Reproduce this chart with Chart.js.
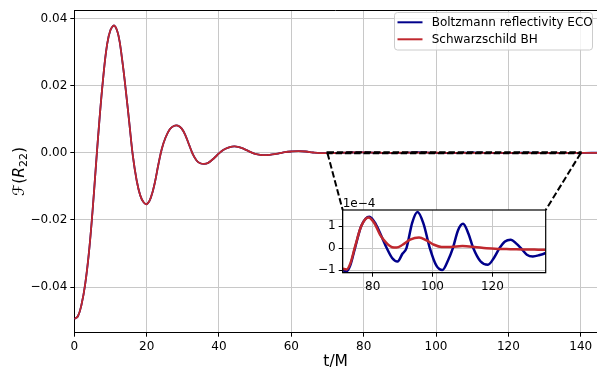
<!DOCTYPE html>
<html lang="en">
<head>
<meta charset="utf-8" />
<title>Ringdown: Boltzmann reflectivity ECO vs Schwarzschild BH</title>
<script src="https://cdn.jsdelivr.net/npm/chart.js@4.4.1/dist/chart.umd.min.js"></script>
<style>
    body { margin: 0; background: #fff; }
    .wrap { position: relative; width: 597px; height: 371px; }
    #mainChart { position: absolute; left: 0; top: 0; }
    #insetChart { position: absolute; left: 300px; top: 195px; }
</style>
</head>
<body>
<div class="wrap">
    <canvas id="mainChart" width="597" height="371" style="width:597px;height:371px"></canvas>
    <canvas id="insetChart" width="260" height="105" style="width:260px;height:105px"></canvas>
</div>
<script>
    // early ringdown, both curves lie on top of each other here
    const tRing = [0, 1.0, 2.0, 3.0, 4.0, 5.0, 6.0, 7.0, 8.0, 9.0,
        10.0, 11.1, 12.2, 13.2, 14.2, 15.2, 16.2, 17.2, 18.2, 19.2,
        20.2, 21.2, 22.2, 23.2, 24.2, 25.2, 26.4, 27.5, 28.6, 29.7,
        30.8, 31.8, 32.8, 33.8, 34.8, 35.9, 37.0, 38.2, 39.4, 40.6,
        41.8, 43.0, 44.2, 45.2, 46.4, 47.6, 48.8, 50.0, 51.4, 52.8,
        54.0, 55.4, 56.8, 58.2, 60.0, 62.0, 64.0, 66.0, 68.0];
    const fRing = [-0.0495, -0.0487, -0.0452, -0.0392, -0.0302, -0.0180, -0.0035, 0.0105, 0.0225, 0.0318,
        0.0366, 0.0379, 0.0350, 0.0280, 0.0190, 0.0090, -0.0010, -0.0080, -0.0126, -0.0148,
        -0.0152, -0.0132, -0.0092, -0.0037, 0.0012, 0.0045, 0.0070, 0.0080, 0.0081, 0.0072,
        0.0050, 0.0022, -0.0005, -0.0023, -0.0031, -0.0033, -0.0030, -0.0020, -0.0008, 0.0004,
        0.0012, 0.0017, 0.0019, 0.0018, 0.0014, 0.0008, 0.0002, -0.0003, -0.0006, -0.0007,
        -0.0006, -0.0004, -0.0001, 0.0002, 0.0004, 0.0005, 0.0004, 0.0001, -0.0001];

    // late time tails, in units of 1e-4
    const tEco = [70.0, 71.3, 72.5, 74.1, 76.2, 78.9, 81.0, 82.9, 84.7, 86.5,
        88.3, 90.0, 91.3, 93.2, 95.0, 97.0, 99.1, 101.3, 103.3, 105.2,
        106.8, 108.5, 110.2, 112.0, 113.6, 116.0, 118.5, 120.5, 122.4, 124.2,
        126.1, 128.0, 129.8, 131.5, 133.5, 135.5, 137.8, 141.0, 145.0];
    const fEco = [-1.00, -1.06, -0.80, 0.0, 1.00, 1.42, 1.10, 0.55, 0.0, -0.45,
        -0.61, -0.25, 0.0, 1.15, 1.64, 1.10, 0.0, -0.80, -1.00, -0.55,
        0.0, 0.80, 1.10, 0.65, 0.0, -0.60, -0.76, -0.45, 0.0, 0.30,
        0.38, 0.20, -0.05, -0.30, -0.38, -0.33, -0.22, 0.05, 0.30];
    const tBh = [70.0, 71.3, 72.5, 74.1, 76.2, 78.6, 80.5, 82.5, 84.5, 86.5,
        88.0, 90.0, 92.5, 95.5, 98.0, 100.5, 103.0, 106.0, 110.0, 114.0,
        118.0, 122.0, 126.0, 130.0, 134.0, 137.8, 141.0, 145.0];
    const fBh = [-0.94, -0.97, -0.72, 0.05, 1.00, 1.39, 1.15, 0.60, 0.25, 0.04,
        0.02, 0.15, 0.38, 0.48, 0.35, 0.15, 0.05, 0.05, 0.09, 0.05,
        -0.01, -0.04, -0.05, -0.06, -0.07, -0.08, -0.08, -0.08];
    const TAIL_UNIT = 1e-4;

    const xTicks = [0, 20, 40, 60, 80, 100, 120, 140];
    const yTicks = [-0.04, -0.02, 0.00, 0.02, 0.04];
    const insetXTicks = [80, 100, 120];
    const insetYTicks = [-1, 0, 1];
    const zoomT = [70, 140];
    const insetXRange = [70, 137.8];
    const insetYRange = [-1.12, 1.73];

    const FONT = '"DejaVu Sans", sans-serif';
    const BLUE = '#00008b';
    const RED = '#c0282e';
    // inset plot area in page pixels
    const INSET = { left: 342.7, top: 210, right: 545.7, bottom: 272.7 };

    const minus = s => String(s).replace('-', '\u2212');
    const toPoints = (t, f, k) => t.map((v, i) => ({ x: v, y: f[i] * k }));

    const ecoMain = toPoints(tRing, fRing, 1).concat(toPoints(tEco, fEco, TAIL_UNIT));
    const bhMain = toPoints(tRing, fRing, 1).concat(toPoints(tBh, fBh, TAIL_UNIT));

    const grid = { color: '#c8c8c8', lineWidth: 1, tickColor: '#000', tickLength: 4, tickWidth: 1 };
    const tickFont = { family: FONT, size: 12 };

    const mainDecor = {
        id: 'mainDecor',
        afterDatasetsDraw(chart) {
            const { ctx, chartArea: ca, scales: { x, y } } = chart;
            const x1 = x.getPixelForValue(zoomT[0]);
            const x2 = x.getPixelForValue(zoomT[1]);
            const yt = y.getPixelForValue(insetYRange[1] * TAIL_UNIT);
            const yb = y.getPixelForValue(insetYRange[0] * TAIL_UNIT);
            ctx.save();
            ctx.strokeStyle = '#000';
            ctx.lineWidth = 2;
            ctx.setLineDash([6.5, 2.8]);
            ctx.strokeRect(x1, yt, x2 - x1, yb - yt);
            ctx.beginPath();
            ctx.moveTo(x1, yb); ctx.lineTo(INSET.left, INSET.top);
            ctx.moveTo(x2, yb); ctx.lineTo(INSET.right, INSET.top);
            ctx.stroke();
            ctx.restore();

            // top spine
            ctx.save();
            ctx.strokeStyle = '#000';
            ctx.lineWidth = 1;
            ctx.beginPath();
            ctx.moveTo(ca.left, Math.round(ca.top) + 0.5);
            ctx.lineTo(ca.right, Math.round(ca.top) + 0.5);
            ctx.stroke();
            ctx.restore();
        },
        afterDraw(chart) {
            const { ctx, chartArea: ca } = chart;
            // legend
            ctx.save();
            const bx = 394.5, by = 12.5, bw = 198, bh = 37.5, r = 3;
            ctx.beginPath();
            ctx.roundRect(bx, by, bw, bh, r);
            ctx.fillStyle = 'rgba(255,255,255,0.8)';
            ctx.fill();
            ctx.strokeStyle = '#cccccc';
            ctx.lineWidth = 1;
            ctx.stroke();
            ctx.font = '12px ' + FONT;
            ctx.textBaseline = 'middle';
            ctx.fillStyle = '#000';
            chart.data.datasets.forEach((ds, i) => {
                const yy = 22.3 + i * 17;
                ctx.strokeStyle = ds.borderColor;
                ctx.lineWidth = 2;
                ctx.beginPath();
                ctx.moveTo(397.5, yy); ctx.lineTo(422.5, yy);
                ctx.stroke();
                ctx.fillText(ds.label, 431.7, yy + 0.5);
            });
            ctx.restore();

            // y axis label: calligraphic F of R_22
            ctx.save();
            ctx.translate(23.5, (ca.top + ca.bottom) / 2);
            ctx.rotate(-Math.PI / 2);
            ctx.fillStyle = '#000';
            ctx.textBaseline = 'alphabetic';
            const big = '15.5px ' + FONT, ital = 'italic 15.5px ' + FONT, small = '11px ' + FONT;
            const parts = [['\u2131', big, 0], ['(', big, 0], ['R', ital, 0], ['22', small, 3], [')', big, 0]];
            let total = 0;
            parts.forEach(p => { ctx.font = p[1]; p.push(ctx.measureText(p[0]).width); total += p[3]; });
            let px = -total / 2;
            parts.forEach(p => { ctx.font = p[1]; ctx.fillText(p[0], px, p[2]); px += p[3]; });
            ctx.restore();
        }
    };

    new Chart(document.getElementById('mainChart'), {
        type: 'line',
        data: {
            datasets: [
                { label: 'Boltzmann reflectivity ECO', data: ecoMain, borderColor: BLUE, borderWidth: 1.8, order: 2 },
                { label: 'Schwarzschild BH', data: bhMain, borderColor: RED, borderWidth: 1.8, order: 1 }
            ]
        },
        options: {
            responsive: false,
            devicePixelRatio: 1,
            animation: false,
            events: [],
            layout: { padding: { top: 6, right: 0, left: 0, bottom: 0 } },
            elements: { point: { radius: 0 }, line: { tension: 0.4, fill: false } },
            plugins: { legend: { display: false }, tooltip: { enabled: false } },
            scales: {
                x: {
                    type: 'linear', min: 0, max: 144.5,
                    grid: grid,
                    border: { color: '#000', width: 1 },
                    ticks: { font: tickFont, color: '#000', padding: 3, autoSkip: false, maxRotation: 0, callback: v => String(v) },
                    afterBuildTicks: s => { s.ticks = xTicks.map(v => ({ value: v })); },
                    afterFit: s => { s.height = 38.3; },
                    title: { display: true, text: 't/M', color: '#000', font: { family: FONT, size: 15.5 }, padding: { top: 0, bottom: 0 } }
                },
                y: {
                    type: 'linear', min: -0.0536, max: 0.0425,
                    grid: grid,
                    border: { color: '#000', width: 1 },
                    ticks: { font: tickFont, color: '#000', padding: 3, autoSkip: false, callback: v => minus(v.toFixed(2)) },
                    afterBuildTicks: s => { s.ticks = yTicks.map(v => ({ value: v })); },
                    afterFit: s => { s.width = 74.3; }
                }
            }
        },
        plugins: [mainDecor]
    });

    const insetDecor = {
        id: 'insetDecor',
        beforeDraw(chart) {
            const { ctx, chartArea: ca } = chart;
            ctx.save();
            ctx.fillStyle = '#fff';
            ctx.fillRect(ca.left, ca.top, ca.right - ca.left, ca.bottom - ca.top);
            ctx.restore();
        },
        afterDraw(chart) {
            const { ctx, chartArea: ca } = chart;
            ctx.save();
            ctx.strokeStyle = '#000';
            ctx.lineWidth = 1.2;
            ctx.strokeRect(ca.left, ca.top, ca.right - ca.left, ca.bottom - ca.top);
            ctx.fillStyle = '#000';
            ctx.font = '12px ' + FONT;
            ctx.textBaseline = 'alphabetic';
            ctx.fillText('1e\u22124', ca.left, ca.top - 3.3);
            ctx.restore();
        }
    };

    new Chart(document.getElementById('insetChart'), {
        type: 'line',
        data: {
            datasets: [
                { label: 'Boltzmann reflectivity ECO', data: toPoints(tEco, fEco, 1), borderColor: BLUE, borderWidth: 2.5, order: 2 },
                { label: 'Schwarzschild BH', data: toPoints(tBh, fBh, 1), borderColor: RED, borderWidth: 2.5, order: 1 }
            ]
        },
        options: {
            responsive: false,
            devicePixelRatio: 1,
            animation: false,
            events: [],
            layout: { padding: { top: 15, right: 14.3, left: 0, bottom: 0 } },
            elements: { point: { radius: 0 }, line: { cubicInterpolationMode: 'monotone', fill: false } },
            plugins: { legend: { display: false }, tooltip: { enabled: false } },
            scales: {
                x: {
                    type: 'linear', min: insetXRange[0], max: insetXRange[1],
                    grid: grid,
                    border: { color: '#000', width: 1 },
                    ticks: { font: tickFont, color: '#000', padding: 3, autoSkip: false, maxRotation: 0, callback: v => String(v) },
                    afterBuildTicks: s => { s.ticks = insetXTicks.map(v => ({ value: v })); },
                    afterFit: s => { s.height = 27.3; }
                },
                y: {
                    type: 'linear', min: insetYRange[0], max: insetYRange[1],
                    grid: grid,
                    border: { color: '#000', width: 1 },
                    ticks: { font: tickFont, color: '#000', padding: 3, autoSkip: false, callback: v => minus(v) },
                    afterBuildTicks: s => { s.ticks = insetYTicks.map(v => ({ value: v })); },
                    afterFit: s => { s.width = 42.7; }
                }
            }
        },
        plugins: [insetDecor]
    });
</script>
</body>
</html>
